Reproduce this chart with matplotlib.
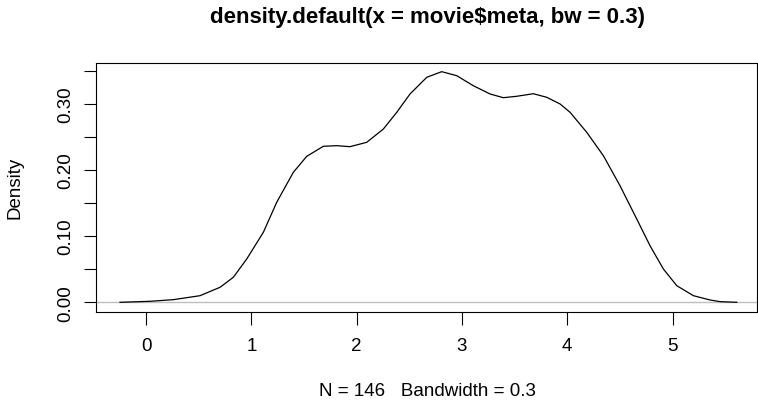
import numpy as np
import matplotlib.pyplot as plt

plt.rcParams['font.family'] = ['Liberation Sans', 'DejaVu Sans']

# kernel density estimate of movie$meta (bw = 0.3)
dens_x = [-0.247, 0.038, 0.260, 0.513, 0.703, 0.829, 0.956, 1.114, 1.241,
          1.399, 1.526, 1.684, 1.811, 1.937, 2.096, 2.254, 2.381, 2.507,
          2.666, 2.808, 2.951, 3.108, 3.267, 3.393, 3.520, 3.678, 3.805,
          3.932, 4.027, 4.185, 4.343, 4.501, 4.660, 4.786, 4.913, 5.040,
          5.198, 5.356, 5.451, 5.610]
dens_y = [0.0000, 0.0015, 0.0040, 0.0100, 0.0227, 0.0378, 0.0654, 0.1057,
          0.1511, 0.1964, 0.2205, 0.2357, 0.2366, 0.2351, 0.2417, 0.2618,
          0.2870, 0.3147, 0.3399, 0.3484, 0.3423, 0.3272, 0.3147, 0.3091,
          0.3112, 0.3151, 0.3097, 0.2996, 0.2870, 0.2568, 0.2215, 0.1761,
          0.1258, 0.0855, 0.0503, 0.0251, 0.0100, 0.0035, 0.0010, 0.0000]

n_obs = 146
bandwidth = 0.3
x_ticks = [0, 1, 2, 3, 4, 5]
y_ticks = [0.00, 0.05, 0.10, 0.15, 0.20, 0.25, 0.30, 0.35]
y_labels = ['0.00', '', '0.10', '', '0.20', '', '0.30', '']

W, H = 758, 402
fs = 13.5
fig = plt.figure(figsize=(W / 100, H / 100), dpi=100)
ax = fig.add_axes([95.7 / W, 1 - 312.5 / H, (757 - 95.7) / W, (312.5 - 64) / H])

# baseline at zero, then the density curve
ax.axhline(0, color='#bebebe', linewidth=1.0, zorder=1)
ax.plot(dens_x, dens_y, color='black', linewidth=0.9, zorder=2)

ax.set_xlim(-0.478, 5.802)
ax.set_ylim(-0.0139, 0.3615)

ax.set_xticks(x_ticks)
ax.set_xticklabels([str(t) for t in x_ticks])
ax.set_yticks(y_ticks)
ax.set_yticklabels(y_labels, rotation=90, va='center')

ax.tick_params(axis='x', length=9, width=0.8, pad=9.3, labelsize=fs)
ax.tick_params(axis='y', length=9, width=0.8, pad=6.8, labelsize=fs)
for s in ax.spines.values():
    s.set_linewidth(0.8)

fig.text(428 / W, 1 - 18 / H, 'density.default(x = movie$meta, bw = 0.3)',
         ha='center', va='center', fontsize=16, fontweight='bold')
fig.text(427 / W, 1 - 392 / H,
         f'N = {n_obs}   Bandwidth = {bandwidth}',
         ha='center', va='center', fontsize=fs)
fig.text(15 / W, 1 - 187.5 / H, 'Density', rotation=90,
         ha='center', va='center', fontsize=fs)

fig.savefig('out.png', dpi=100)
